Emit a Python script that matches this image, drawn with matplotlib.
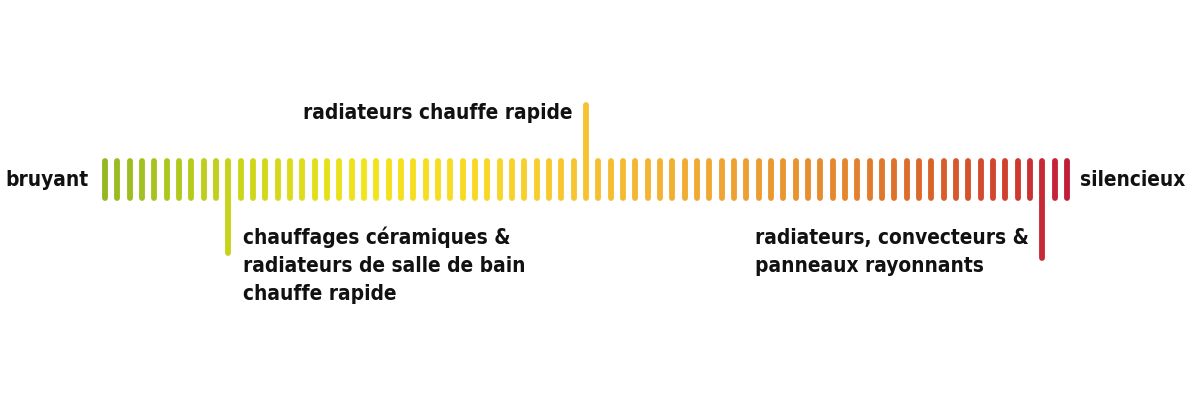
import numpy as np
import matplotlib.pyplot as plt
from matplotlib import font_manager as fm
from matplotlib.colors import LinearSegmentedColormap

# scale data
n_bars = 79
down_marks = [10, 76]
up_marks = [39]
label_left = "bruyant"
label_right = "silencieux"
label_up = "radiateurs chauffe rapide"
label_down_1 = "chauffages céramiques &\nradiateurs de salle de bain\nchauffe rapide"
label_down_2 = "radiateurs, convecteurs &\npanneaux rayonnants"

# gradient anchors (position along the scale, colour)
grad_pos = [0.0, 0.13, 0.27, 0.40, 0.50, 0.64, 0.77, 0.87, 0.95, 1.0]
grad_col = ["#94b824", "#c8d41a", "#f2e41c", "#f9d628", "#f7c232",
            "#efa534", "#e4862e", "#d8602b", "#cd3a30", "#c01d3a"]


def pick_font():
    # look for a condensed / narrow face, bold-ish, otherwise DejaVu bold
    best = None
    for f in fm.fontManager.ttflist:
        nm = (f.name + " " + f.fname).lower()
        if not ('condens' in nm or 'narrow' in nm):
            continue
        if 'extra' in nm or 'ultra' in nm or 'semi' in nm or 'italic' in nm.split('/')[-1]:
            continue
        w = f.weight if isinstance(f.weight, int) else 700
        score = abs(w - 650)
        if best is None or score < best[0]:
            best = (score, f.fname)
    if best:
        return fm.FontProperties(fname=best[1])
    return fm.FontProperties(family='DejaVu Sans', weight='bold')


fp = pick_font()
cmap = LinearSegmentedColormap.from_list("scale", list(zip(grad_pos, grad_col)))

fig = plt.figure(figsize=(12, 4), dpi=100)
ax = fig.add_axes([0, 0, 1, 1])
ax.set_xlim(-8.52, 88.8)
ax.set_ylim(400, 0)
ax.axis('off')

lw = 4.2
top, bottom = 161, 198
for i in range(n_bars):
    c = cmap(i / (n_bars - 1))
    y0, y1 = top, bottom
    if i in down_marks:
        y1 = bottom + 55 if i == down_marks[0] else bottom + 60
    elif i in up_marks:
        y0 = 105
    ax.plot([i, i], [y0, y1], color=c, lw=lw, solid_capstyle='round')

# size text so the widest line matches the reference width
probe = ax.text(0, 0, label_down_1.split("\n")[0], fontproperties=fp, fontsize=20)
fig.canvas.draw()
w = probe.get_window_extent().width
probe.remove()
fs = 20 * 267.0 / w
fp.set_size(fs)

col = '#111111'
ax.text(-1.35, 186, label_left, ha='right', va='baseline', fontproperties=fp, color=col)
ax.text(n_bars - 1 + 1.1, 186, label_right, ha='left', va='baseline', fontproperties=fp, color=col)
ax.text(up_marks[0] - 1.1, 119, label_up, ha='right', va='baseline', fontproperties=fp, color=col)
for k, line in enumerate(label_down_1.split("\n")):
    ax.text(down_marks[0] + 1.22, 244 + 28 * k, line, ha='left', va='baseline',
            fontproperties=fp, color=col)
for k, line in enumerate(label_down_2.split("\n")):
    ax.text(down_marks[1] - 23.3, 244 + 28 * k, line, ha='left', va='baseline',
            fontproperties=fp, color=col)

fig.savefig("out.png", dpi=100, facecolor='white')
